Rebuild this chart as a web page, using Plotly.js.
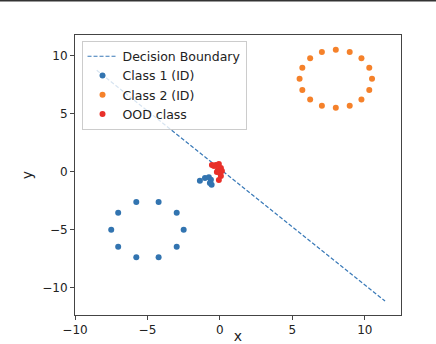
<!DOCTYPE html>
<html>
<head>
<meta charset="utf-8">
<script src="https://cdn.plot.ly/plotly-3.0.1.min.js"></script>
<style>
  body { margin: 0; padding: 0; background: #fff; }
  #graph { width: 436px; height: 344px; }
</style>
</head>
<body>
<div id="graph"></div>
<script>
// decision boundary end points
var boundary_x = [-8.5, 11.4];
var boundary_y = [8.75, -11.15];

// class 1: ring round (-5, -5) plus a small cluster near the origin
var class1_x = [-2.5, -2.98, -4.23, -5.77, -7.02, -7.5, -7.02, -5.77, -4.23, -2.98,
                -1.38, -1.03, -0.76, -0.62, -0.69, -0.57];
var class1_y = [-5, -3.53, -2.62, -2.62, -3.53, -5, -6.47, -7.38, -7.38, -6.47,
                -0.78, -0.54, -0.48, -0.69, -0.97, -1.12];

// class 2: ring round (8, 8)
var class2_x = [10.5, 10.31, 9.77, 8.96, 8, 7.04, 6.23, 5.69,
                5.5, 5.69, 6.23, 7.04, 8, 8.96, 9.77, 10.31];
var class2_y = [8, 8.96, 9.77, 10.31, 10.5, 10.31, 9.77, 8.96,
                8, 7.04, 6.23, 5.69, 5.5, 5.69, 6.23, 7.04];

// out of distribution points
var ood_x = [-0.55, -0.28, -0.07, 0.07, -0.14, 0, 0.07, -0.07, -0.41, 0.14, -0.21];
var ood_y = [0.58, 0.58, 0.66, 0.32, 0.15, -0.11, -0.37, -0.72, 0.49, 0.06, -0.03];

var x_ticks = [-10, -5, 0, 5, 10];
var y_ticks = [-10, -5, 0, 5, 10];

var font = 'DejaVu Sans, sans-serif';

var data = [{
    x: boundary_x,
    y: boundary_y,
    type: 'scatter',
    mode: 'lines',
    name: 'Decision Boundary',
    line: {color: '#3a7ab8', width: 1.2, dash: '4px,2px'}
},
    {
        x: class1_x,
        y: class1_y,
        type: 'scatter',
        mode: 'markers',
        name: 'Class 1 (ID)',
        marker: {size: 6, color: '#3274b0'}
    },
    {
        x: class2_x,
        y: class2_y,
        type: 'scatter',
        mode: 'markers',
        name: 'Class 2 (ID)',
        marker: {size: 6, color: '#f5812a'}
    },
    {
        x: ood_x,
        y: ood_y,
        type: 'scatter',
        mode: 'markers',
        name: 'OOD class',
        marker: {size: 6, color: '#e8302a'}
    }];

var axis = {
    showgrid: false,
    zeroline: false,
    showline: true,
    mirror: true,
    linecolor: '#444',
    linewidth: 1,
    ticks: 'outside',
    ticklen: 4,
    tickcolor: '#444',
    tickfont: {family: font, size: 12, color: '#222'}
};

var layout = {
    width: 436,
    height: 344,
    margin: {l: 75, r: 35, t: 35, b: 29},
    paper_bgcolor: '#fff',
    plot_bgcolor: '#fff',
    font: {family: font, color: '#222'},
    showlegend: true,
    legend: {
        x: 0.02, y: 0.98, xanchor: 'left', yanchor: 'top',
        bgcolor: 'rgba(255,255,255,0.8)',
        bordercolor: '#ccc', borderwidth: 1,
        font: {family: font, size: 12.5, color: '#222'},
        tracegroupgap: 0
    },
    xaxis: Object.assign({}, axis, {
        range: [-10, 12.5],
        tickvals: x_ticks,
        title: {text: 'x', font: {family: font, size: 14}, standoff: 1}
    }),
    yaxis: Object.assign({}, axis, {
        range: [-12.35, 11.78],
        tickvals: y_ticks,
        title: {text: 'y', font: {family: font, size: 14}, standoff: 6}
    }),
    shapes: [{
        type: 'line', xref: 'paper', yref: 'paper',
        x0: -0.25, x1: 1.2, y0: 1.123, y1: 1.123,
        line: {color: '#333', width: 2}
    }]
};

Plotly.newPlot('graph', data, layout, {displayModeBar: false, staticPlot: true});
</script>
</body>
</html>
